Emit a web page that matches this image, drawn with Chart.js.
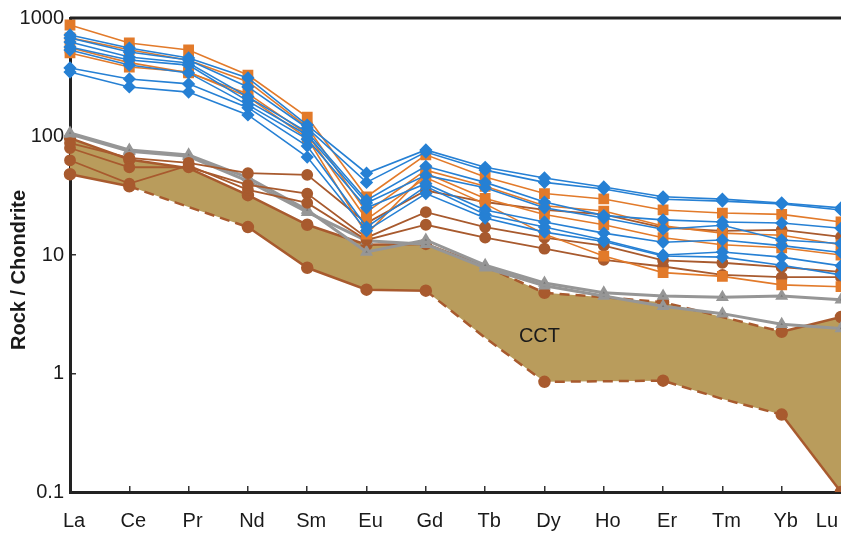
<!DOCTYPE html>
<html>
<head>
<meta charset="utf-8">
<script src="https://cdn.jsdelivr.net/npm/chart.js@4.4.1/dist/chart.umd.min.js"></script>
<style>
  body { margin: 0; background: #fff; }
  #wrap { width: 841px; height: 534px; position: relative; }
</style>
</head>
<body>
<div id="wrap"><canvas id="reeChart"></canvas></div>
<script>
const elements = ['La', 'Ce', 'Pr', 'Nd', 'Sm', 'Eu', 'Gd', 'Tb', 'Dy', 'Ho', 'Er', 'Tm', 'Yb', 'Lu'];
const yTicks = [0.1, 1, 10, 100, 1000];

// blue diamonds
const blueSeries = [
  [719, 558, 460, 312, 125, 49, 77, 55, 44.7, 37.5, 31, 29.6, 27.5, 25],
  [678, 517, 442, 262, 118, 41, 74, 52, 41, 36, 29.5, 28.5, 27, 24],
  [627, 469, 417, 216, 109, 29, 56, 41, 28, 21.5, 19.8, 19, 18.6, 16.8],
  [569, 442, 400, 199, 103, 27.5, 47, 37, 25, 20.5, 16.5, 17.8, 13.4, 12.5],
  [537, 401, 344, 185, 95, 25, 40, 24, 19, 15.3, 12.8, 13.4, 12, 10.5],
  [379, 306, 278, 175, 83, 17.2, 38, 22, 17.2, 13.4, 10, 10.6, 9.6, 8.1],
  [350, 262, 237, 152, 67, 16, 33, 20.5, 15.6, 13, 9.8, 9.6, 8.2, 6.8]
];

// orange squares
const orangeSeries = [
  [873, 615, 537, 330, 146, 31, 70, 45.5, 33, 29.7, 24, 22.6, 22, 19],
  [680, 540, 440, 290, 120, 23, 52, 38, 26, 23.5, 17.6, 15.3, 14.7, 12.2],
  [507, 386, 350, 216, 97, 15, 49, 30, 22, 18, 14, 12.2, 11.5, 10],
  [560, 420, 345, 230, 105, 20, 45, 27, 15, 9.8, 7.1, 6.6, 5.6, 5.4]
];

// brown circles
const brownSeries = [
  [88, 66, 60, 49, 47.5, 18.6, 35, 28, 24, 22, 17, 16, 16.3, 14.2],
  [80, 55, 55, 39, 33, 14, 23, 17.2, 14, 12, 9, 8.6, 7.9, 7.2],
  [63, 40, 57, 35.5, 27.5, 13.4, 18, 14, 11.3, 9.1, 8, 6.8, 6.5, 6.5]
];

// grey triangles
const graySeries = [
  [107, 77, 70, 45, 24, 10.6, 13.4, 8.2, 5.8, 4.8, 4.5, 4.4, 4.5, 4.2],
  [105, 75, 68, 42, 23, 13.2, 12.3, 7.8, 5.5, 4.5, 3.7, 3.2, 2.6, 2.4]
];

// CCT field
const cctUpper = [97, 64, 54, 32, 18, 12.2, 12.4, 8, 4.8, 4.4, 4.0, 3.0, 2.25, 3.0];
const cctLower = [48, 38, 25.4, 17.2, 7.8, 5.1, 5.0, 2.0, 0.85, 0.86, 0.87, 0.61, 0.45, 0.1];

const BLUE = 'rgb(38,128,212)';
const ORANGE = 'rgb(226,122,42)';
const BROWN = 'rgb(168,90,46)';
const GRAY = 'rgb(150,150,150)';
const FILL = 'rgb(185,156,92)';
const FONT = '"Liberation Sans", Arial, sans-serif';

const upperDots = [0, 1, 3, 4, 5, 6, 8, 10, 12, 13];
const lowerDots = [0, 1, 3, 4, 5, 6, 8, 10, 12, 13];
const upperDashed = [7, 8, 9, 10, 11];
const lowerDashed = [1, 2, 6, 7, 8, 9, 10, 11];

const datasets = [];

blueSeries.forEach(d => datasets.push({
  data: d, borderColor: BLUE, backgroundColor: BLUE, borderWidth: 1.6,
  pointStyle: 'rectRot', pointRadius: 5.5, order: 2
}));
orangeSeries.forEach(d => datasets.push({
  data: d, borderColor: ORANGE, backgroundColor: ORANGE, borderWidth: 1.6,
  pointStyle: 'rect', pointRadius: 6.5, order: 4
}));
brownSeries.forEach(d => datasets.push({
  data: d, borderColor: BROWN, backgroundColor: BROWN, borderWidth: 1.8,
  pointStyle: 'circle', pointRadius: 5, order: 6
}));
graySeries.forEach(d => datasets.push({
  data: d, borderColor: GRAY, backgroundColor: 'rgb(120,120,120)', borderWidth: 3,
  pointStyle: 'triangle', pointRadius: 4.5, order: 8
}));

// CCT boundary lines
datasets.push({
  data: cctUpper, borderColor: BROWN, borderWidth: 2.5,
  pointBackgroundColor: BROWN, pointBorderColor: BROWN,
  pointRadius: cctUpper.map((v, i) => upperDots.includes(i) ? 5 : 0),
  fill: false, order: 9,
  segment: { borderDash: ctx => upperDashed.includes(ctx.p0DataIndex) ? [10, 6] : undefined }
});
datasets.push({
  data: cctLower, borderColor: BROWN, borderWidth: 2.5,
  pointBackgroundColor: BROWN, pointBorderColor: BROWN,
  pointRadius: cctLower.map((v, i) => lowerDots.includes(i) ? 5 : 0),
  fill: false, order: 9,
  segment: { borderDash: ctx => lowerDashed.includes(ctx.p0DataIndex) ? [10, 6] : undefined }
});
// CCT field fill (plain, no segment styling)
datasets.push({
  data: cctUpper, borderWidth: 0, borderColor: FILL, backgroundColor: FILL,
  pointRadius: 0, fill: '+1', order: 12
});
datasets.push({
  data: cctLower, borderWidth: 0, borderColor: FILL, backgroundColor: FILL,
  pointRadius: 0, fill: false, order: 12
});

const textPlugin = {
  id: 'reeText',
  afterDraw(chart) {
    const { ctx, chartArea, scales: { x, y } } = chart;
    ctx.save();
    // frame top
    ctx.strokeStyle = '#222';
    ctx.lineWidth = 3;
    ctx.beginPath();
    ctx.moveTo(chartArea.left, chartArea.top);
    ctx.lineTo(chartArea.right, chartArea.top);
    ctx.stroke();

    // element labels
    ctx.fillStyle = '#1a1a1a';
    ctx.font = '20px ' + FONT;
    ctx.textBaseline = 'alphabetic';
    elements.forEach((el, i) => {
      const px = x.getPixelForValue(i);
      const last = i === elements.length - 1;
      ctx.textAlign = last ? 'right' : 'center';
      ctx.fillText(el, last ? px - 3 : px + 4, chartArea.bottom + 35);
    });

    // CCT label
    ctx.textAlign = 'center';
    ctx.fillText('CCT', x.getPixelForValue(8) - 5, y.getPixelForValue(1.85));

    // axis title
    ctx.font = 'bold 20px ' + FONT;
    ctx.translate(19, (chartArea.top + chartArea.bottom) / 2 + 15);
    ctx.rotate(-Math.PI / 2);
    ctx.textBaseline = 'middle';
    ctx.fillText('Rock / Chondrite', 0, 0);
    ctx.restore();
  }
};

new Chart(document.getElementById('reeChart'), {
  type: 'line',
  data: { labels: elements, datasets: datasets },
  options: {
    responsive: true,
    maintainAspectRatio: false,
    animation: false,
    layout: { autoPadding: false, padding: { top: 18, right: 0, left: 0, bottom: 0 } },
    plugins: {
      legend: { display: false },
      tooltip: { enabled: false },
      filler: { drawTime: 'beforeDatasetsDraw' }
    },
    scales: {
      x: {
        type: 'category',
        offset: false,
        afterFit: s => { s.height = 42; s.paddingLeft = 0; s.paddingRight = 0; },
        ticks: { display: false },
        grid: { drawOnChartArea: false, tickLength: -6, color: '#333', lineWidth: 1.5 },
        border: { color: '#222', width: 3 }
      },
      y: {
        type: 'logarithmic',
        min: 0.1,
        max: 1000,
        afterBuildTicks: s => { s.ticks = yTicks.map(v => ({ value: v })); },
        afterFit: s => { s.width = 70; s.paddingTop = 0; s.paddingBottom = 0; },
        ticks: {
          callback: v => String(v),
          font: { size: 20, family: FONT },
          color: '#1a1a1a',
          padding: 12
        },
        grid: { drawOnChartArea: false, tickLength: -6, color: '#333', lineWidth: 1.5 },
        border: { color: '#222', width: 3 }
      }
    }
  },
  plugins: [textPlugin]
});
</script>
</body>
</html>
